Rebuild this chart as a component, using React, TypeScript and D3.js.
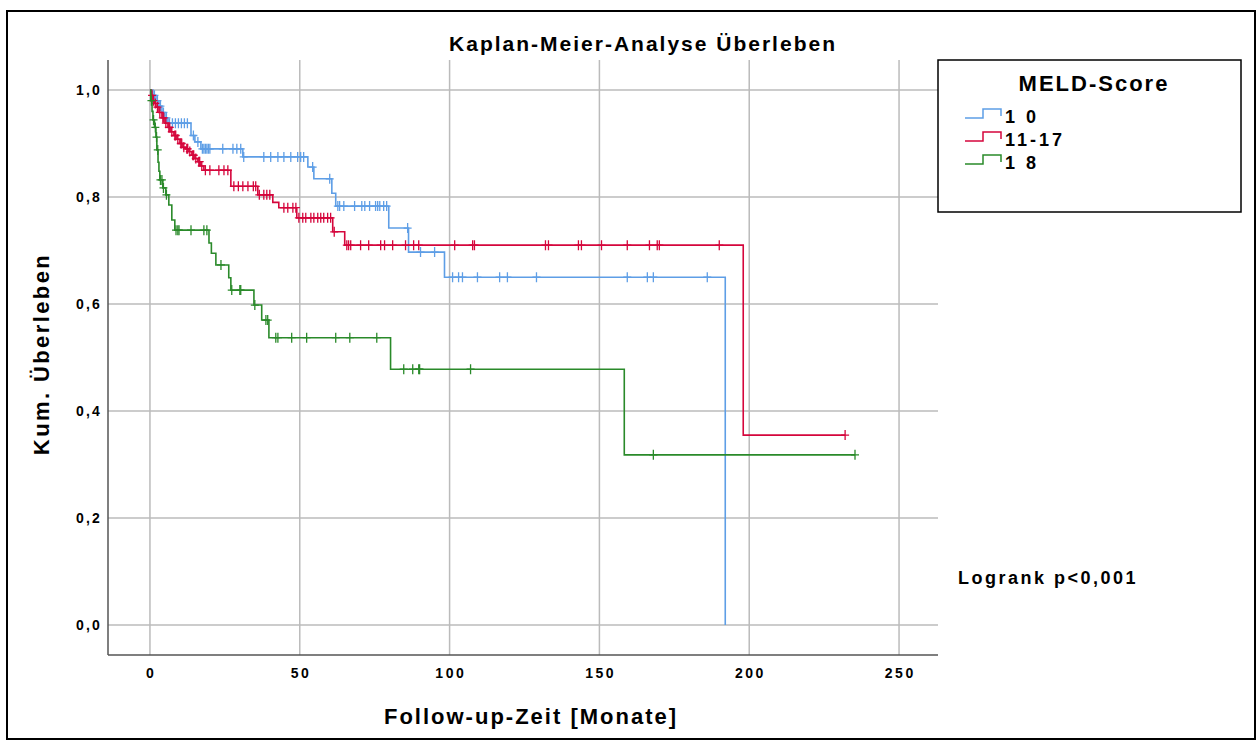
import React from "react";
import * as d3 from "d3";

const width = 1258;
const height = 741;
const plot = { left: 108, right: 938, top: 60, bottom: 655 };

const xTicks = [0, 50, 100, 150, 200, 250];
const yTicks = [0, 0.2, 0.4, 0.6, 0.8, 1.0];

const groups = ["1 0", "11-17", "1 8"];
const colors = ["#5e9ee6", "#d5063c", "#2a8a2a"];

// [time, survival after event]
const blueSteps = [
  [1, 0.99], [2, 0.98], [3, 0.97], [4, 0.958], [5, 0.948], [6, 0.938],
  [13.7, 0.915], [15, 0.903], [17, 0.89], [31, 0.875], [52.7, 0.856],
  [54.7, 0.834], [60.7, 0.807], [62, 0.783], [79.7, 0.742], [86.3, 0.697],
  [98.3, 0.65], [192, 0]
];
const blueCensored = [
  1.5, 2.5, 3.5, 4.5, 5.5, 6.5, 7.5, 8.5, 9.5, 10.5, 11.5, 12.5, 14.5, 16,
  17.5, 18, 18.5, 19, 19.5, 20, 24.3, 27.7, 29, 30.3, 31.3, 38, 40.3, 42.7,
  44.7, 47, 49.3, 50.3, 51.3, 54.3, 60, 62.7, 63.3, 64.7, 68.3, 70.7, 71.7,
  73.3, 75.3, 76, 76.7, 78, 79, 86, 90.3, 95, 101, 103, 104.3, 109.3, 116.7,
  119.3, 129, 159.3, 166, 168, 186
];
const blueEnd = 192;

const redSteps = [
  [0.5, 0.99], [1, 0.98], [1.5, 0.975], [2, 0.968], [3, 0.958], [4, 0.948],
  [5, 0.938], [6, 0.93], [7, 0.922], [8, 0.915], [9, 0.908], [10, 0.9],
  [11, 0.893], [12, 0.89], [13, 0.885], [14, 0.878], [15, 0.872], [16, 0.866],
  [17, 0.858], [18, 0.85], [27, 0.82], [36, 0.804], [41, 0.79], [43, 0.78],
  [49, 0.761], [61, 0.735], [65, 0.71], [198, 0.355]
];
const redCensored = [
  0.7, 1.2, 1.8, 2.5, 3.3, 4.3, 4.6, 5.3, 6.3, 6.6, 7.3, 8.3, 8.6, 9.3, 10.3,
  10.6, 11.3, 12.3, 12.6, 13.3, 14.3, 14.6, 15.3, 16.3, 16.6, 17.3, 18.5, 20,
  23, 24.7, 26, 28, 29.5, 31, 32.7, 34.5, 35.3, 36.5, 38, 39, 40, 44.7, 46,
  47.7, 48.7, 49.7, 51, 52, 53.7, 54.7, 56, 57, 58, 59.3, 60.3, 61.5, 65.7,
  66.3, 67, 70.3, 73, 77, 78.3, 81, 85.3, 88, 89.7, 101.7, 107.7, 108.3, 132,
  133, 143, 144, 150.7, 159.3, 166.7, 169.3, 170, 190, 232
];
const redEnd = 232;

const greenSteps = [
  [0.3, 0.98], [0.7, 0.96], [1, 0.944], [1.5, 0.93], [2, 0.912], [2.3, 0.888],
  [2.7, 0.865], [3, 0.848], [3.3, 0.832], [4.3, 0.817], [5.3, 0.804],
  [6.3, 0.785], [7.3, 0.757], [8.3, 0.738], [19.7, 0.714], [20.5, 0.695],
  [22, 0.673], [26.3, 0.649], [27, 0.626], [34.7, 0.598], [37.3, 0.57],
  [39.7, 0.537], [80.3, 0.478], [158.3, 0.318]
];
const greenCensored = [
  0.5, 1.2, 1.8, 2.2, 2.6, 3.5, 4, 4.5, 5.5, 8.7, 9.3, 9.7, 13.7, 18, 19,
  23.7, 27.3, 30, 30.3, 35, 38.7, 39.3, 42, 42.7, 47.3, 52.3, 62, 66.7, 75.7,
  84.7, 87.7, 89.7, 90, 107, 168, 235.3
];
const greenEnd = 235.3;

const series = [
  { steps: blueSteps, censored: blueCensored, end: blueEnd },
  { steps: redSteps, censored: redCensored, end: redEnd },
  { steps: greenSteps, censored: greenCensored, end: greenEnd }
];

const x = d3.scaleLinear().domain([-14, 263]).range([plot.left, plot.right]);
const y = d3.scaleLinear().domain([0, 1]).range([625, 90]);

const fmt = (v: number) => d3.format(".1f")(v).replace(".", ",");

function valueAt(steps: number[][], t: number) {
  let s = 1;
  for (const [ti, si] of steps) if (ti <= t) s = si;
  return s;
}

const line = d3
  .line<number[]>()
  .x(d => x(d[0]))
  .y(d => y(d[1]))
  .curve(d3.curveStepAfter);

const font = "'Liberation Sans', Arial, sans-serif";

export default function App() {
  return (
    <svg
      width={width}
      height={height}
      style={{ position: "absolute", left: 0, top: 0, background: "#fff" }}
      fontFamily={font}
      fontWeight="bold"
    >
      <rect x={7} y={11} width={1248} height={728} fill="none" stroke="#000" strokeWidth={2} />

      {/* grid */}
      {xTicks.map(t => (
        <line key={"gx" + t} x1={x(t)} x2={x(t)} y1={plot.top} y2={plot.bottom} stroke="#bbb" strokeWidth={1.5} />
      ))}
      {yTicks.map(t => (
        <line key={"gy" + t} x1={plot.left} x2={plot.right} y1={y(t)} y2={y(t)} stroke="#bbb" strokeWidth={1.5} />
      ))}
      <line x1={plot.left} x2={plot.left} y1={plot.top} y2={plot.bottom} stroke="#555" strokeWidth={1.5} />
      <line x1={plot.left} x2={plot.right} y1={plot.bottom} y2={plot.bottom} stroke="#555" strokeWidth={1.5} />

      {yTicks.map(t => (
        <text key={"ty" + t} x={102} y={y(t) + 5} textAnchor="end" fontSize={14} letterSpacing={2.2}>
          {fmt(t)}
        </text>
      ))}
      {xTicks.map(t => (
        <text key={"tx" + t} x={x(t) + 1.2} y={678} textAnchor="middle" fontSize={14} letterSpacing={2.5}>
          {t}
        </text>
      ))}

      {/* curves */}
      {series.map((s, i) => {
        const pts = [[0, 1], ...s.steps];
        const last = pts[pts.length - 1];
        if (last[0] < s.end) pts.push([s.end, last[1]]);
        return (
          <g key={"s" + i} stroke={colors[i]} fill="none" strokeWidth={1.6}>
            <path d={line(pts) || ""} />
            {s.censored.map((c, j) => {
              const cx = x(c);
              const cy = y(valueAt(s.steps, c));
              return (
                <path key={j} d={`M${cx},${cy - 5}V${cy + 5}M${cx - 4},${cy}H${cx + 4}`} strokeWidth={1.3} />
              );
            })}
          </g>
        );
      })}

      <text x={643} y={51} textAnchor="middle" fontSize={21} letterSpacing={2}>
        Kaplan-Meier-Analyse Überleben
      </text>
      <text x={531} y={724} textAnchor="middle" fontSize={22} letterSpacing={2}>
        Follow-up-Zeit [Monate]
      </text>
      <text transform="translate(49,354) rotate(-90)" textAnchor="middle" fontSize={22} letterSpacing={2.4}>
        Kum. Überleben
      </text>

      {/* legend */}
      <rect x={938} y={60} width={303} height={152} fill="#fff" stroke="#000" strokeWidth={1.5} />
      <text x={1094} y={91} textAnchor="middle" fontSize={22} letterSpacing={2}>
        MELD-Score
      </text>
      {groups.map((g, i) => {
        const cy = 116 + i * 23;
        return (
          <g key={g}>
            <path d={`M965,${cy + 2}H983V${cy - 7}H1001V${cy}`} fill="none" stroke={colors[i]} strokeWidth={1.5} />
            <text x={1005} y={cy + 7} fontSize={18} letterSpacing={3}>
              {g}
            </text>
          </g>
        );
      })}

      <text x={958} y={584} fontSize={18} letterSpacing={2.5}>
        Logrank p&lt;0,001
      </text>
    </svg>
  );
}
